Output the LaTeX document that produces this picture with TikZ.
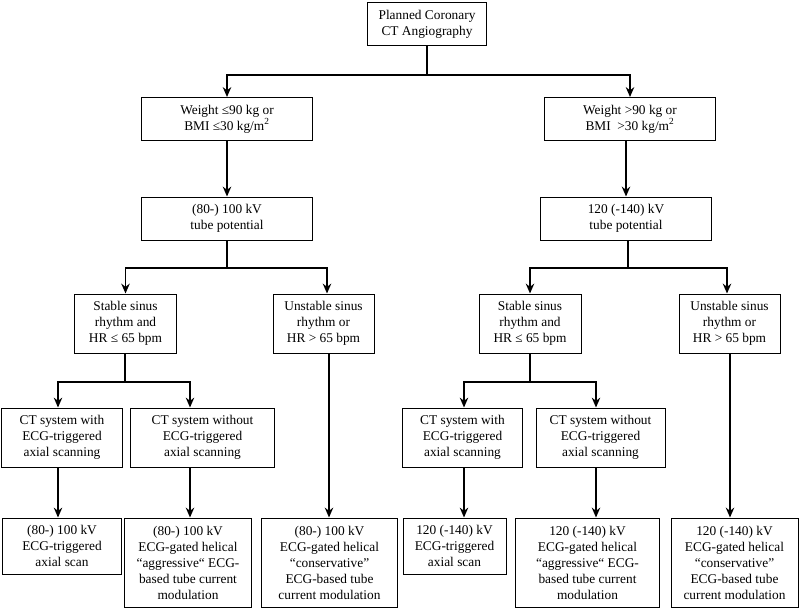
\documentclass[tikz,border=0pt]{standalone}
\usepackage{fontspec}
\setmainfont{Liberation Serif}
\usetikzlibrary{arrows.meta}
\tikzset{
  box/.style={rectangle,draw,line width=0.7pt,align=center,inner sep=1pt,
    font=\fontsize{9.5}{11.4}\selectfont},
  line/.style={line width=1.4pt,-{Stealth[length=7pt,width=6pt]}},
  link/.style={line width=1.4pt}
}

\begin{document}
\begin{tikzpicture}[x=0.025cm,y=-0.025cm]
\useasboundingbox (0,0) rectangle (800,610);
% top
\node[box,minimum width=2.95cm,minimum height=1.05cm] (plan) at (427,24) {Planned Coronary\\CT Angiography};
\node[box,minimum width=4.25cm,minimum height=1.075cm] (wlow) at (227,119) {Weight ≤90 kg or\\BMI ≤30 kg/m\textsuperscript{2}};
\node[box,minimum width=4.25cm,minimum height=1.075cm] (whigh) at (630,119) {Weight >90 kg or\\BMI\ \ >30 kg/m\textsuperscript{2}};
\node[box,minimum width=4.25cm,minimum height=1.075cm] (tlow) at (227,218.5) {(80-) 100 kV\\tube potential};
\node[box,minimum width=4.25cm,minimum height=1.075cm] (thigh) at (626,218.5) {120 (-140) kV\\tube potential};
% heart rate
\node[box,minimum width=2.525cm,minimum height=1.475cm] (slow) at (125.5,323.5) {Stable sinus\\rhythm and\\HR ≤ 65 bpm};
\node[box,minimum width=2.525cm,minimum height=1.475cm] (ulow) at (323.5,323.5) {Unstable sinus\\rhythm or\\HR > 65 bpm};
\node[box,minimum width=2.55cm,minimum height=1.475cm] (shigh) at (530,323.5) {Stable sinus\\rhythm and\\HR ≤ 65 bpm};
\node[box,minimum width=2.525cm,minimum height=1.475cm] (uhigh) at (729.5,323.5) {Unstable sinus\\rhythm or\\HR > 65 bpm};
% scanner
\node[box,minimum width=3cm,minimum height=1.475cm] (ctwl) at (62,437.5) {CT system with\\ECG-triggered\\axial scanning};
\node[box,minimum width=3.575cm,minimum height=1.475cm] (ctol) at (202.5,437.5) {CT system without\\ECG-triggered\\axial scanning};
\node[box,minimum width=2.975cm,minimum height=1.475cm] (ctwh) at (462.5,437.5) {CT system with\\ECG-triggered\\axial scanning};
\node[box,minimum width=3.225cm,minimum height=1.475cm] (ctoh) at (600.5,437.5) {CT system without\\ECG-triggered\\axial scanning};
% protocols
\node[box,minimum width=2.95cm,minimum height=1.4cm] (pwl) at (62,546) {(80-) 100 kV\\ECG-triggered\\axial scan};
\node[box,minimum width=3.15cm,minimum height=2.225cm] (pol) at (188,562.5) {(80-) 100 kV\\ECG-gated helical\\“aggressive“ ECG-\\based tube current\\modulation};
\node[box,minimum width=3.375cm,minimum height=2.225cm] (pul) at (329.5,562.5) {(80-) 100 kV\\ECG-gated helical\\“conservative”\\ECG-based tube\\current modulation};
\node[box,minimum width=2.575cm,minimum height=1.4cm] (pwh) at (454.5,546) {120 (-140) kV\\ECG-triggered\\axial scan};
\node[box,minimum width=3.575cm,minimum height=2.225cm] (poh) at (587.5,562.5) {120 (-140) kV\\ECG-gated helical\\“aggressive“ ECG-\\based tube current\\modulation};
\node[box,minimum width=3.175cm,minimum height=2.225cm] (puh) at (734.5,562.5) {120 (-140) kV\\ECG-gated helical\\“conservative”\\ECG-based tube\\current modulation};
% branch points
\coordinate (j0) at (427,75);
\coordinate (j1) at (227,268);
\coordinate (j2) at (628,268);
\coordinate (j3) at (125,382);
\coordinate (j4) at (530,382);
\coordinate (a1) at (58,382);
\coordinate (a2) at (190,382);
\coordinate (a3) at (464,382);
\coordinate (a4) at (596,382);
\coordinate (a5) at (327,268);
\coordinate (a6) at (727,268);
\coordinate (a7) at (730,382);
\coordinate (a8) at (329,382);
% connectors
\draw[link] (plan) -- (j0);
\draw[line] (j0) -| (wlow);
\draw[line] (j0) -| (whigh);
\draw[line] (wlow) -- (tlow);
\draw[line] (whigh.south -| thigh.north) -- (thigh);
\draw[link] (tlow) -- (j1);
\draw[line] (j1) -| (slow);
\draw[line] (j1) -- (a5) -- (a5 |- ulow.north);
\draw[link] (thigh.south -| j2) -- (j2);
\draw[line] (j2) -| (shigh);
\draw[line] (j2) -- (a6) -- (a6 |- uhigh.north);
\draw[link] (slow.south -| j3) -- (j3);
\draw[line] (j3) -- (a1) -- (a1 |- ctwl.north);
\draw[line] (j3) -- (a2) -- (a2 |- ctol.north);
\draw[link] (shigh.south -| j4) -- (j4);
\draw[line] (j4) -- (a3) -- (a3 |- ctwh.north);
\draw[line] (j4) -- (a4) -- (a4 |- ctoh.north);
\draw[line] (ctwl.south -| a1) -- (a1 |- pwl.north);
\draw[line] (ctol.south -| a2) -- (a2 |- pol.north);
\draw[line] (ulow.south -| a8) -- (a8 |- pul.north);
\draw[line] (ctwh.south -| a3) -- (a3 |- pwh.north);
\draw[line] (ctoh.south -| a4) -- (a4 |- poh.north);
\draw[line] (uhigh.south -| a7) -- (a7 |- puh.north);
\end{tikzpicture}
\end{document}
